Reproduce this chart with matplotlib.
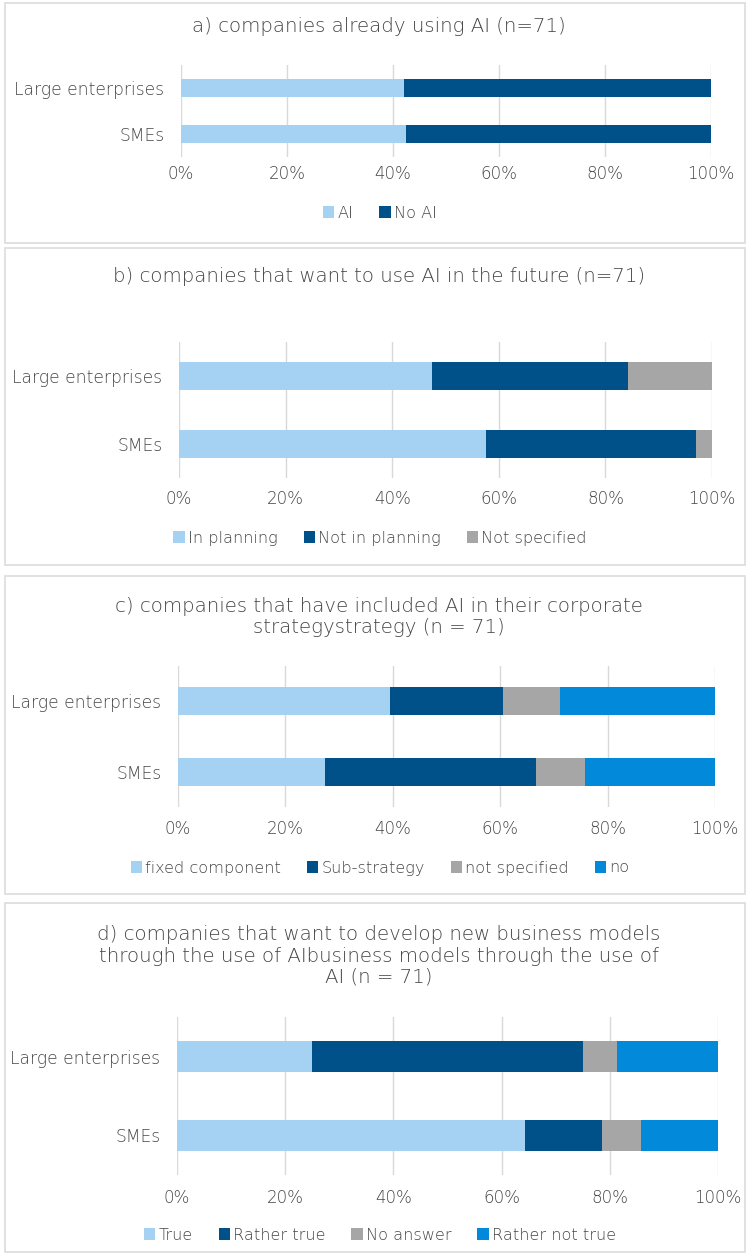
import matplotlib
matplotlib.use("Agg")
import matplotlib.pyplot as plt
from matplotlib.patches import Rectangle, Patch
from matplotlib.ticker import PercentFormatter

# ---- data (shares in percent, per company size) ----
groups = ["Large enterprises", "SMEs"]
x_ticks = [0, 20, 40, 60, 80, 100]

a_title = "a) companies already using AI (n=71)"
a_series = ["AI", "No AI"]
a_large = [42.1, 57.9]
a_smes = [42.4, 57.6]

b_title = "b) companies that want to use AI in the future (n=71)"
b_series = ["In planning", "Not in planning", "Not specified"]
b_large = [47.4, 36.8, 15.8]
b_smes = [57.6, 39.4, 3.0]

c_title = "c) companies that have included AI in their corporate\nstrategystrategy (n = 71)"
c_series = ["fixed component", "Sub-strategy", "not specified", "no"]
c_large = [39.5, 21.0, 10.6, 28.9]
c_smes = [27.3, 39.4, 9.1, 24.2]

d_title = ("d) companies that want to develop new business models\n"
           "through the use of AIbusiness models through the use of\n"
           "AI (n = 71)")
d_series = ["True", "Rather true", "No answer", "Rather not true"]
d_large = [25.0, 50.1, 6.2, 18.7]
d_smes = [64.3, 14.3, 7.1, 14.3]

# ---- styling ----
LIGHT = "#A5D2F2"
DARK = "#00508A"
GREY = "#A6A6A6"
BRIGHT = "#0289DA"
TEXT = "#454545"
GRID = "#D9D9D9"
FRAME = "#DEDEDE"

plt.rcParams["font.family"] = ["DejaVu Sans"]
plt.rcParams["font.weight"] = "light"
plt.rcParams["text.color"] = TEXT

W, H = 747, 1255
fig = plt.figure(figsize=(W / 100, H / 100), dpi=100)


def fx(px):
    return px / W


def fy(py):
    return 1 - py / H


def panel(frame, title, title_y, plot, tick_y, legend_y, series, large, smes, colors):
    x0, y0, x1, y1 = frame
    fig.patches.append(Rectangle((fx(x0), fy(y1)), fx(x1 - x0), (y1 - y0) / H,
                                 transform=fig.transFigure, fill=False,
                                 edgecolor=FRAME, linewidth=1.3))
    fig.text(fx(379), fy(title_y), title, ha="center", va="center",
             fontsize=14.2, color=TEXT, linespacing=1.15)

    px0, py0, px1, py1 = plot
    ax = fig.add_axes([fx(px0), fy(py1), fx(px1 - px0), (py1 - py0) / H])
    pos = list(range(len(groups)))
    left = [0.0] * len(groups)
    for i, name in enumerate(series):
        vals = [large[i], smes[i]]
        ax.barh(pos, vals, left=left, height=0.4, color=colors[i], label=name)
        left = [l + v for l, v in zip(left, vals)]

    ax.set_xlim(0, 100)
    ax.set_ylim(1.5, -0.5)
    ax.set_yticks(pos)
    ax.set_yticklabels(groups)
    ax.set_xticks(x_ticks)
    ax.xaxis.set_major_formatter(PercentFormatter(decimals=0))
    ax.grid(axis="x", color=GRID, linewidth=1.0)
    ax.set_axisbelow(True)
    for s in ax.spines.values():
        s.set_visible(False)
    pad_pt = (tick_y - py1 - 8) * 0.72
    ax.tick_params(axis="x", length=0, pad=pad_pt, labelsize=12, labelcolor=TEXT)
    ax.tick_params(axis="y", length=0, pad=12, labelsize=12.3, labelcolor=TEXT)

    handles = [Patch(facecolor=c, edgecolor="none") for c in colors[:len(series)]]
    fig.legend(handles, series, loc="center", bbox_to_anchor=(fx(380), fy(legend_y)),
               ncol=len(series), frameon=False, fontsize=11.6,
               handlelength=0.7, handleheight=0.7, handletextpad=0.2,
               columnspacing=1.6, labelcolor=TEXT)


panel((5, 3, 745, 243), a_title, 27, (181, 65, 711, 157), 173, 213,
      a_series, a_large, a_smes, [LIGHT, DARK])
panel((5, 248, 745, 565), b_title, 277, (179, 342, 712, 478), 498, 538,
      b_series, b_large, b_smes, [LIGHT, DARK, GREY])
panel((5, 576, 745, 894), c_title, 617, (178, 666, 715, 807), 828, 868,
      c_series, c_large, c_smes, [LIGHT, DARK, GREY, BRIGHT])
panel((5, 903, 745, 1252), d_title, 956, (177, 1017, 718, 1175), 1197, 1235,
      d_series, d_large, d_smes, [LIGHT, DARK, GREY, BRIGHT])

fig.savefig("out.png", dpi=100, facecolor="white")
